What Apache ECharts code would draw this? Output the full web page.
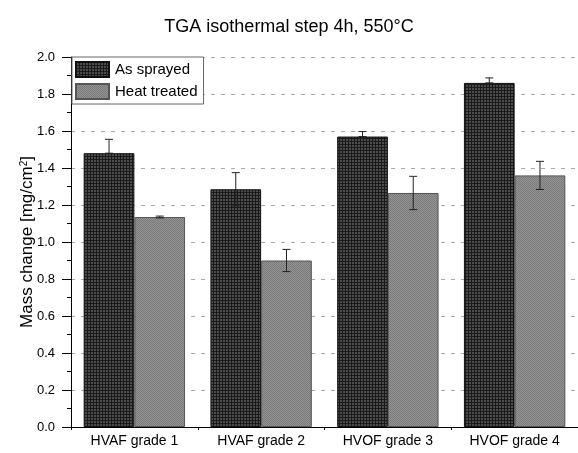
<!DOCTYPE html>
<html>
<head>
<meta charset="utf-8">
<script src="https://cdn.jsdelivr.net/npm/echarts@6/dist/echarts.min.js"></script>
<style>html,body{margin:0;padding:0;background:#fff}#c{width:578px;height:453px}</style>
</head>
<body>
<div id="c"></div>
<script>
var categories = ['HVAF grade 1', 'HVAF grade 2', 'HVOF grade 3', 'HVOF grade 4'];
var asSprayed = [1.48, 1.285, 1.57, 1.86];
var asSprayedErrUp = [0.075, 0.09, 0.027, 0.027];
var asSprayedErrDown = [0, 0.09, 0, 0];
var heatTreated = [1.135, 0.9, 1.265, 1.36];
var heatTreatedErr = [0.005, 0.06, 0.09, 0.076];

function makePattern(kind) {
  var cv = document.createElement('canvas');
  var ctx = cv.getContext('2d');
  if (kind === 'dark') {
    cv.width = 3; cv.height = 3;
    ctx.fillStyle = '#4c4c4c'; ctx.fillRect(0, 0, 3, 3);
    ctx.fillStyle = '#1a1a1a'; ctx.fillRect(0, 0, 3, 1); ctx.fillRect(0, 0, 1, 3);
  } else {
    cv.width = 2; cv.height = 2;
    ctx.fillStyle = '#949494'; ctx.fillRect(0, 0, 2, 2);
    ctx.fillStyle = '#7a7a7a'; ctx.fillRect(0, 0, 1, 1); ctx.fillRect(1, 1, 1, 1);
  }
  return { image: cv, repeat: 'repeat' };
}

var errData = [];
for (var i = 0; i < categories.length; i++) {
  errData.push([i, 0, asSprayed[i] - asSprayedErrDown[i], asSprayed[i] + asSprayedErrUp[i]]);
  errData.push([i, 1, heatTreated[i] - heatTreatedErr[i], heatTreated[i] + heatTreatedErr[i]]);
}

var chart = echarts.init(document.getElementById('c'), null, { renderer: 'canvas' });
chart.setOption({
  animation: false,
  textStyle: { fontFamily: 'Liberation Sans, Arial, sans-serif' },
  title: {
    text: 'TGA isothermal step 4h, 550°C',
    left: 'center', top: 13,
    textStyle: { fontSize: 18, fontWeight: 'normal', color: '#000' }
  },
  legend: {
    left: 72, top: 57, orient: 'vertical',
    itemWidth: 33, itemHeight: 15, itemGap: 5, icon: 'rect',
    padding: [4, 6, 4, 3], borderRadius: 0,
    borderColor: '#666', borderWidth: 1, backgroundColor: '#fff',
    textStyle: { fontSize: 15, color: '#000', padding: [0, 0, 0, 1] },
    data: ['As sprayed', 'Heat treated']
  },
  grid: { left: 71, right: -7, top: 57, bottom: 26, containLabel: false },
  xAxis: [{
    type: 'category', data: categories,
    axisLine: { lineStyle: { color: '#000', width: 1 } },
    axisTick: { alignWithLabel: true, length: 6, lineStyle: { color: '#000' } },
    axisLabel: { fontSize: 14, color: '#000', margin: 7 },
    splitLine: { show: false }
  }, {
    type: 'category', data: categories, position: 'bottom',
    axisLine: { show: false },
    axisTick: { show: true, length: 3, lineStyle: { color: '#000' } },
    axisLabel: { show: false }
  }],
  yAxis: {
    type: 'value', min: 0, max: 2.0, interval: 0.2,
    name: 'Mass change [mg/cm{sup|2}]', nameLocation: 'middle', nameGap: 35,
    nameMoveOverlap: false,
    nameTextStyle: {
      fontSize: 17, color: '#000',
      rich: { sup: { fontSize: 10, verticalAlign: 'top', color: '#000', padding: [0, 0, 7, 0] } }
    },
    axisLine: { show: true, lineStyle: { color: '#000' } },
    axisTick: { show: true, length: 9, lineStyle: { color: '#000' } },
    minorTick: { show: true, splitNumber: 2, length: 4, lineStyle: { color: '#000' } },
    axisLabel: { fontSize: 13, color: '#000', margin: 16, formatter: function (v) { return v.toFixed(1); } },
    splitLine: { show: true, lineStyle: { color: '#aaa', type: [4, 6], width: 1 } }
  },
  series: [{
    name: 'As sprayed', type: 'bar', data: asSprayed,
    barGap: '0%', barCategoryGap: '20%',
    itemStyle: { color: makePattern('dark'), borderColor: '#111', borderWidth: 1 }
  }, {
    name: 'Heat treated', type: 'bar', data: heatTreated,
    barGap: '0%', barCategoryGap: '20%',
    itemStyle: { color: makePattern('light'), borderColor: '#555', borderWidth: 1 }
  }, {
    type: 'custom', data: errData, z: 10,
    renderItem: function (params, api) {
      var ci = api.value(0), si = api.value(1);
      var bw = api.size([1, 0])[0] * 0.4;
      var xc = api.coord([ci, 0])[0] + (si === 0 ? -bw / 2 : bw / 2);
      var lo = api.coord([ci, api.value(2)])[1];
      var hi = api.coord([ci, api.value(3)])[1];
      var st = { stroke: '#222', lineWidth: 1 };
      var cap = 4;
      return {
        type: 'group', children: [
          { type: 'line', shape: { x1: xc, y1: lo, x2: xc, y2: hi }, style: st },
          { type: 'line', shape: { x1: xc - cap, y1: hi, x2: xc + cap, y2: hi }, style: st },
          { type: 'line', shape: { x1: xc - cap, y1: lo, x2: xc + cap, y2: lo }, style: st }
        ]
      };
    }
  }]
});
</script>
</body>
</html>
